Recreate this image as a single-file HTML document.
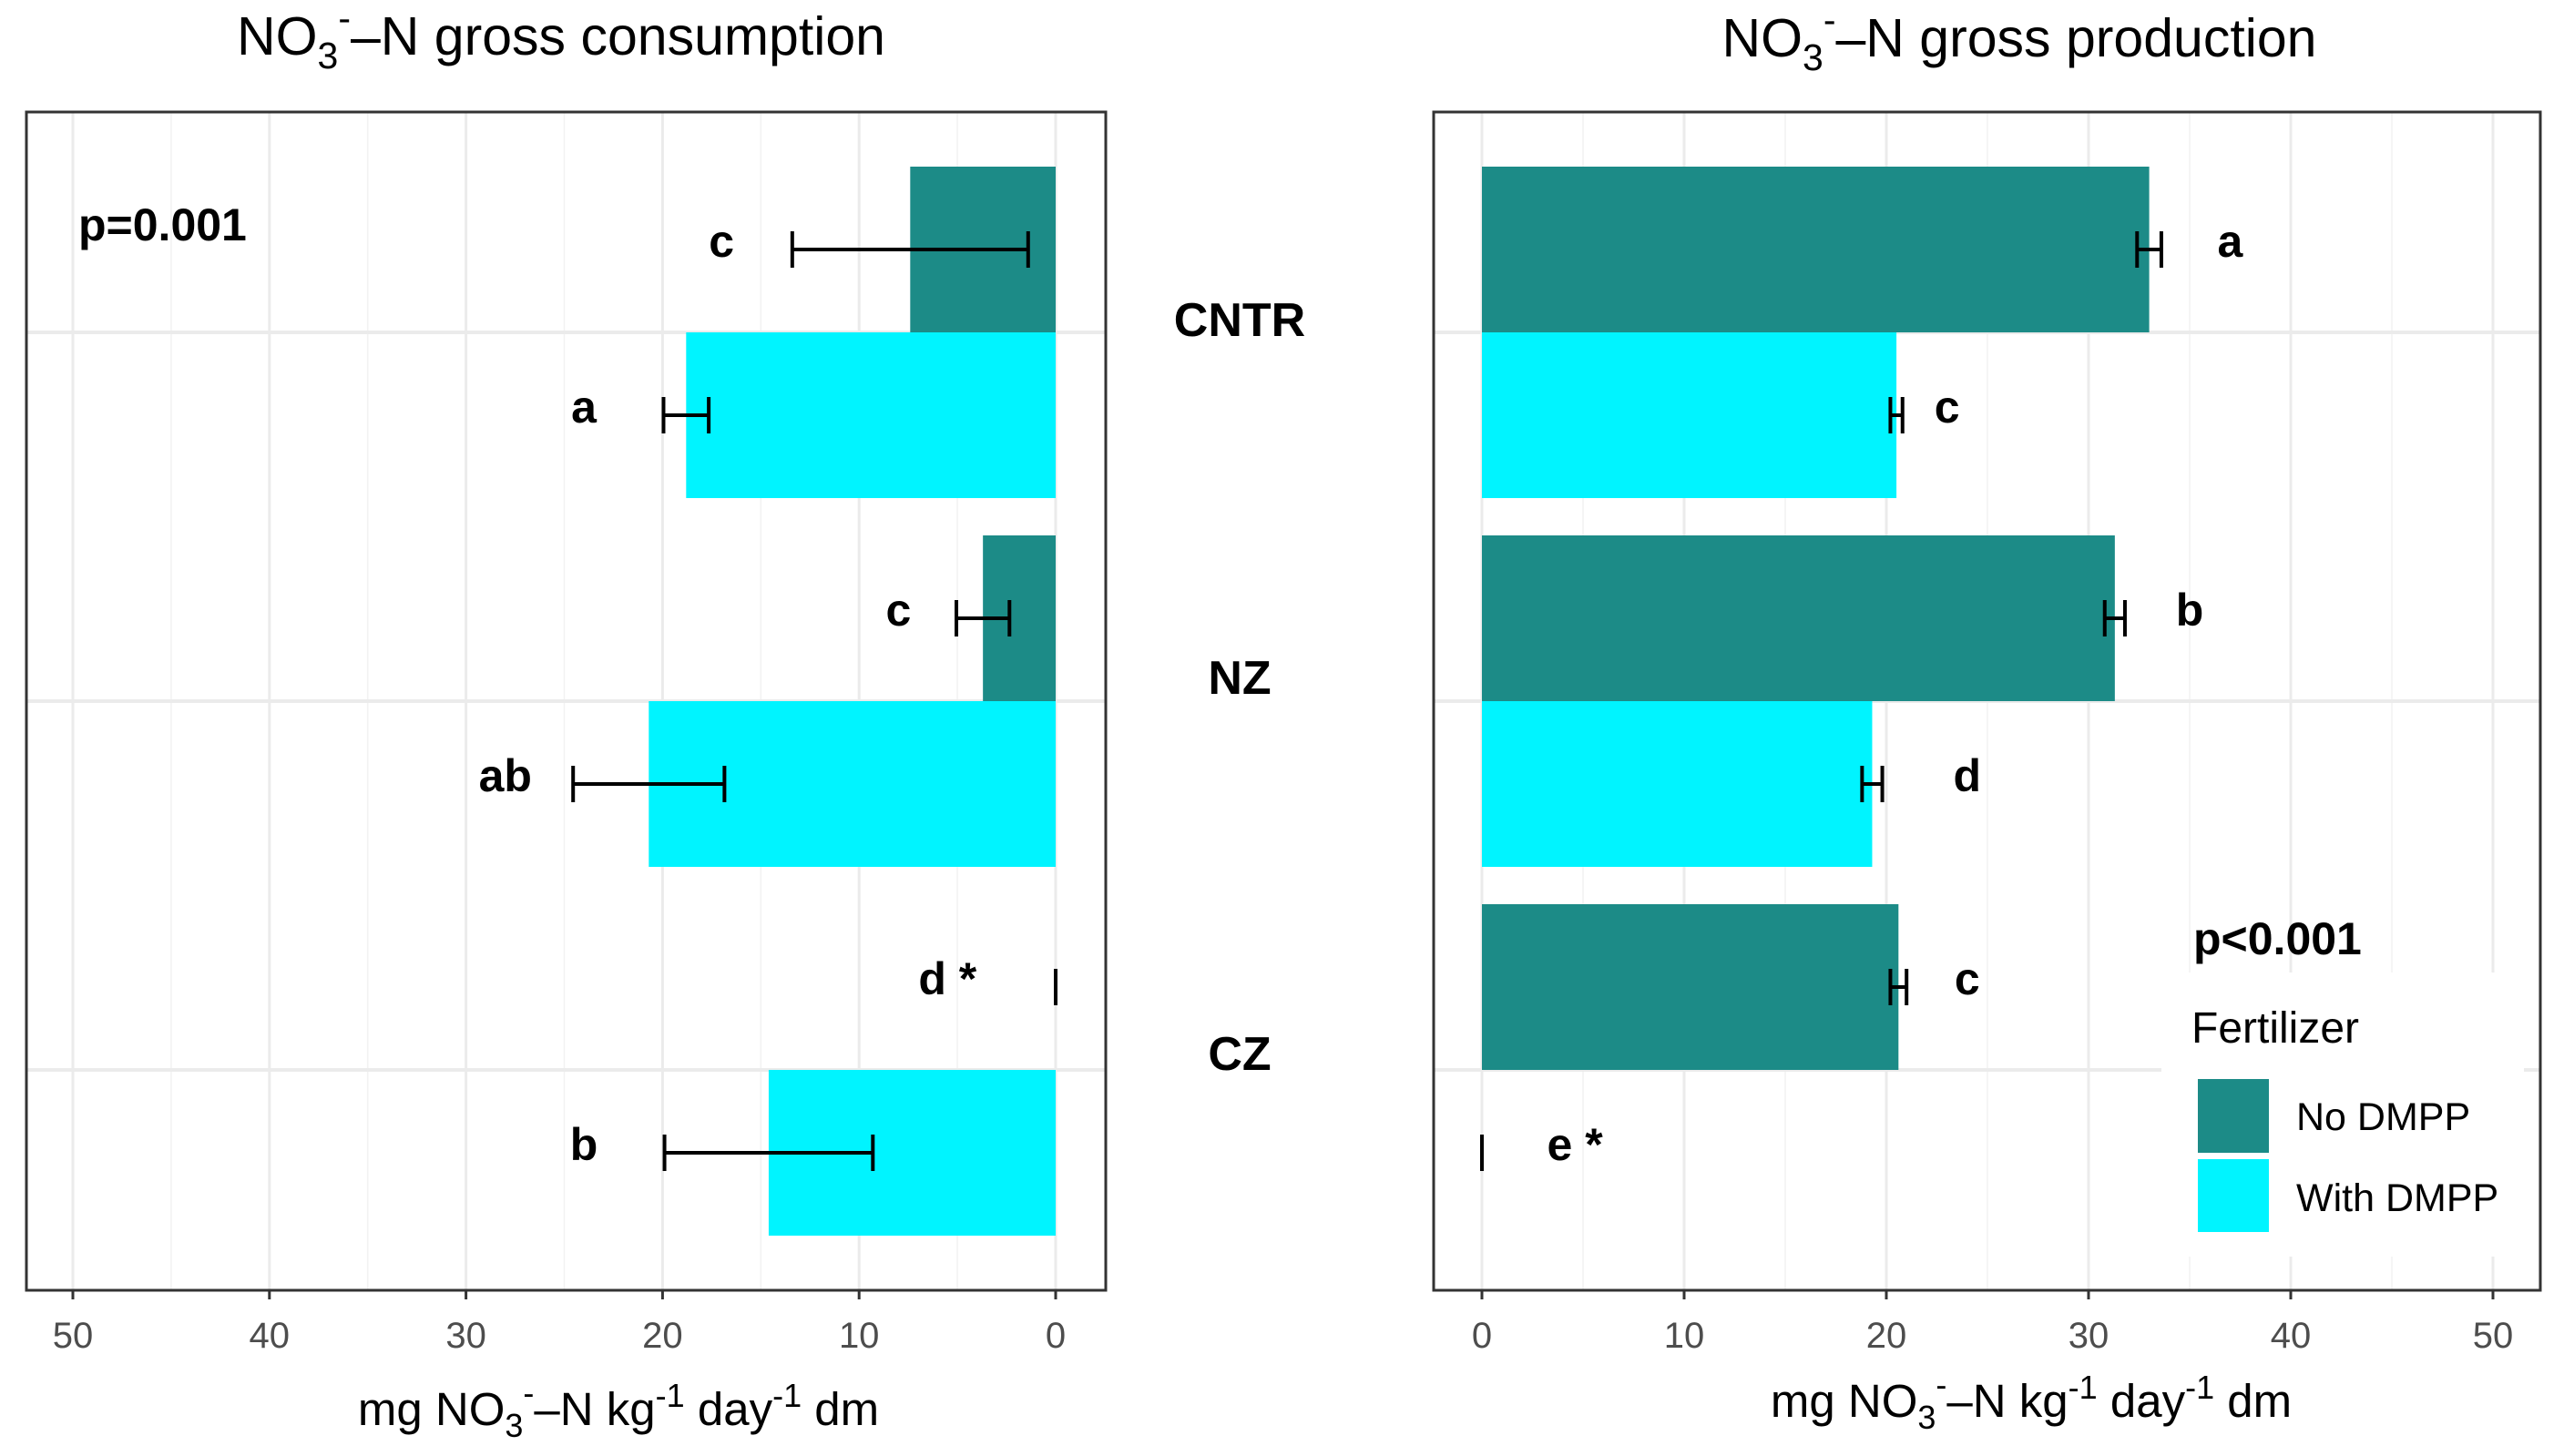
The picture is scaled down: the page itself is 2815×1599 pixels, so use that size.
<!DOCTYPE html>
<html><head><meta charset="utf-8"><style>
html,body{margin:0;padding:0;background:#fff;}
svg{display:block;font-family:"Liberation Sans",Arial,sans-serif;}
</style></head><body>
<svg id="chart" width="2815" height="1599" viewBox="0 0 2815 1599" xmlns="http://www.w3.org/2000/svg">
<g id="left"></g>
<g id="right"></g>
<text x="616" y="60" text-anchor="middle" font-size="59" fill="#000">NO<tspan font-size="41" dy="15">3</tspan><tspan font-size="41" dy="-41">-</tspan><tspan dy="26">–N gross consumption</tspan></text>
<text x="2217" y="62" text-anchor="middle" font-size="59" fill="#000">NO<tspan font-size="41" dy="15">3</tspan><tspan font-size="41" dy="-41">-</tspan><tspan dy="26">–N gross production</tspan></text>
<text x="679" y="1565" text-anchor="middle" font-size="51" fill="#000">mg NO<tspan font-size="36" dy="13">3</tspan><tspan font-size="36" dy="-36">-</tspan><tspan dy="23">–N kg</tspan><tspan font-size="36" dy="-20">-1</tspan><tspan dy="20"> day</tspan><tspan font-size="36" dy="-20">-1</tspan><tspan dy="20"> dm</tspan></text>
<text x="2230" y="1556" text-anchor="middle" font-size="51" fill="#000">mg NO<tspan font-size="36" dy="13">3</tspan><tspan font-size="36" dy="-36">-</tspan><tspan dy="23">–N kg</tspan><tspan font-size="36" dy="-20">-1</tspan><tspan dy="20"> day</tspan><tspan font-size="36" dy="-20">-1</tspan><tspan dy="20"> dm</tspan></text>
</svg>
<script>
const categories = ["CNTR","NZ","CZ"];
const consNo = [7.4, 3.7, 0];
const consNoErr = [6.0, 1.35, 0];
const consWith = [18.8, 20.7, 14.6];
const consWithErr = [1.15, 3.85, 5.3];
const consNoLetters = ["c","c","d *"];
const consWithLetters = ["a","ab","b"];
const consNoLabelAt = [17, 8, 5.5];
const consWithLabelAt = [24, 28, 24];
const prodNo = [33.0, 31.3, 20.6];
const prodNoErr = [0.6, 0.5, 0.4];
const prodWith = [20.5, 19.3, 0];
const prodWithErr = [0.3, 0.5, 0];
const prodNoLetters = ["a","b","c"];
const prodWithLetters = ["c","d","e *"];
const prodNoLabelAt = [37, 35, 24];
const prodWithLabelAt = [23, 24, 4.6];
const ticks = [0,10,20,30,40,50];
const tickLabels = ["0","10","20","30","40","50"];

const NS="http://www.w3.org/2000/svg";
const TEAL="#1c8b87", CYAN="#00f4ff";
const TOP=123, BOT=1417;
const catStep=405, catFirst=365;
function yCat(i){return catFirst+i*catStep;}
const barH=182;
function mk(parent,tag,attrs){const e=document.createElementNS(NS,tag);for(const k in attrs)e.setAttribute(k,attrs[k]);parent.appendChild(e);return e;}

function drawPanel(g,opt){
  const x=opt.x;
  for(let v=5;v<=55;v+=10){const gx=x(v);if(gx>opt.l&&gx<opt.r){const l=mk(g,'line',{x1:gx,x2:gx,y1:TOP,y2:BOT,stroke:'#f2f2f2','stroke-width':1.5});}}
  ticks.forEach(v=>{const l=mk(g,'line',{x1:x(v),x2:x(v),y1:TOP,y2:BOT,stroke:'#ebebeb','stroke-width':3});});
  categories.forEach((c,i)=>{const l=mk(g,'line',{x1:opt.l,x2:opt.r,y1:yCat(i),y2:yCat(i),stroke:'#ebebeb','stroke-width':4});});
  if(opt.legendBox){const r=mk(g,'rect',opt.legendBox);r.setAttribute('fill','#fff');}
  const series=[{vals:opt.no,err:opt.noErr,let:opt.noLet,lab:opt.noLab,col:TEAL,off:-barH,n:'no-dmpp'},{vals:opt.with,err:opt.withErr,let:opt.withLet,lab:opt.withLab,col:CYAN,off:0,n:'with-dmpp'}];
  series.forEach(s=>{
    s.vals.forEach((v,i)=>{
      const x0=x(0),x1=x(v);
      const r=mk(g,'rect',{x:Math.min(x0,x1),y:yCat(i)+s.off,width:Math.abs(x1-x0),height:barH,fill:s.col});
      
      
      const cy=yCat(i)+s.off+barH/2;
      const ea=x(v-s.err[i]),eb=x(v+s.err[i]);
      const eg=mk(g,'g',{stroke:'#000','stroke-width':4});
      
      
      mk(eg,'line',{x1:ea,x2:eb,y1:cy,y2:cy});
      mk(eg,'line',{x1:ea,x2:ea,y1:cy-20,y2:cy+20});
      mk(eg,'line',{x1:eb,x2:eb,y1:cy-20,y2:cy+20});
      const t=mk(g,'text',{x:x(s.lab[i]),y:cy+8,'text-anchor':'middle','font-size':50,'font-weight':'bold',fill:'#000'});
      t.textContent=s.let[i];
      
      
    });
  });
  const b=mk(g,'rect',{x:opt.l,y:TOP,width:opt.r-opt.l,height:BOT-TOP,fill:'none',stroke:'#333','stroke-width':3});
  
  
  ticks.forEach((v,i)=>{
    mk(g,'line',{x1:x(v),x2:x(v),y1:BOT,y2:BOT+10,stroke:'#333','stroke-width':3});
    const t=mk(g,'text',{x:x(v),y:1480,'text-anchor':'middle','font-size':40,fill:'#4d4d4d'});
    t.textContent=tickLabels[i];
    
    
  });
}
const xl=v=>1159-v*21.58;
const xr=v=>1627+v*22.2;
drawPanel(document.getElementById('left'),{x:xl,l:29,r:1214,no:consNo,noErr:consNoErr,with:consWith,withErr:consWithErr,noLet:consNoLetters,withLet:consWithLetters,noLab:consNoLabelAt,withLab:consWithLabelAt});
drawPanel(document.getElementById('right'),{x:xr,l:1574,r:2789,no:prodNo,noErr:prodNoErr,with:prodWith,withErr:prodWithErr,noLet:prodNoLetters,withLet:prodWithLetters,noLab:prodNoLabelAt,withLab:prodWithLabelAt,legendBox:{x:2373,y:1068,width:398,height:312}});

const svg=document.getElementById('chart');
const catShift=[0,-12,-4];
categories.forEach((c,i)=>{
  const t=mk(svg,'text',{x:1361,y:yCat(i)+4+catShift[i],'text-anchor':'middle','font-size':52,'font-weight':'bold',fill:'#000'});
  t.textContent=c;
  
  
});
let t=mk(svg,'text',{x:86,y:264,'font-size':50,'font-weight':'bold',fill:'#000'});t.textContent='p=0.001';


t=mk(svg,'text',{x:2408,y:1048,'font-size':50,'font-weight':'bold',fill:'#000'});t.textContent='p<0.001';


t=mk(svg,'text',{x:2406,y:1145,'font-size':48,fill:'#000'});t.textContent='Fertilizer';


let r=mk(svg,'rect',{x:2413,y:1185,width:78,height:81,fill:TEAL});


r=mk(svg,'rect',{x:2413,y:1273,width:78,height:80,fill:CYAN});


t=mk(svg,'text',{x:2521,y:1241,'font-size':43,fill:'#000'});t.textContent='No DMPP';


t=mk(svg,'text',{x:2521,y:1330,'font-size':43,fill:'#000'});t.textContent='With DMPP';


</script>
</body></html>
